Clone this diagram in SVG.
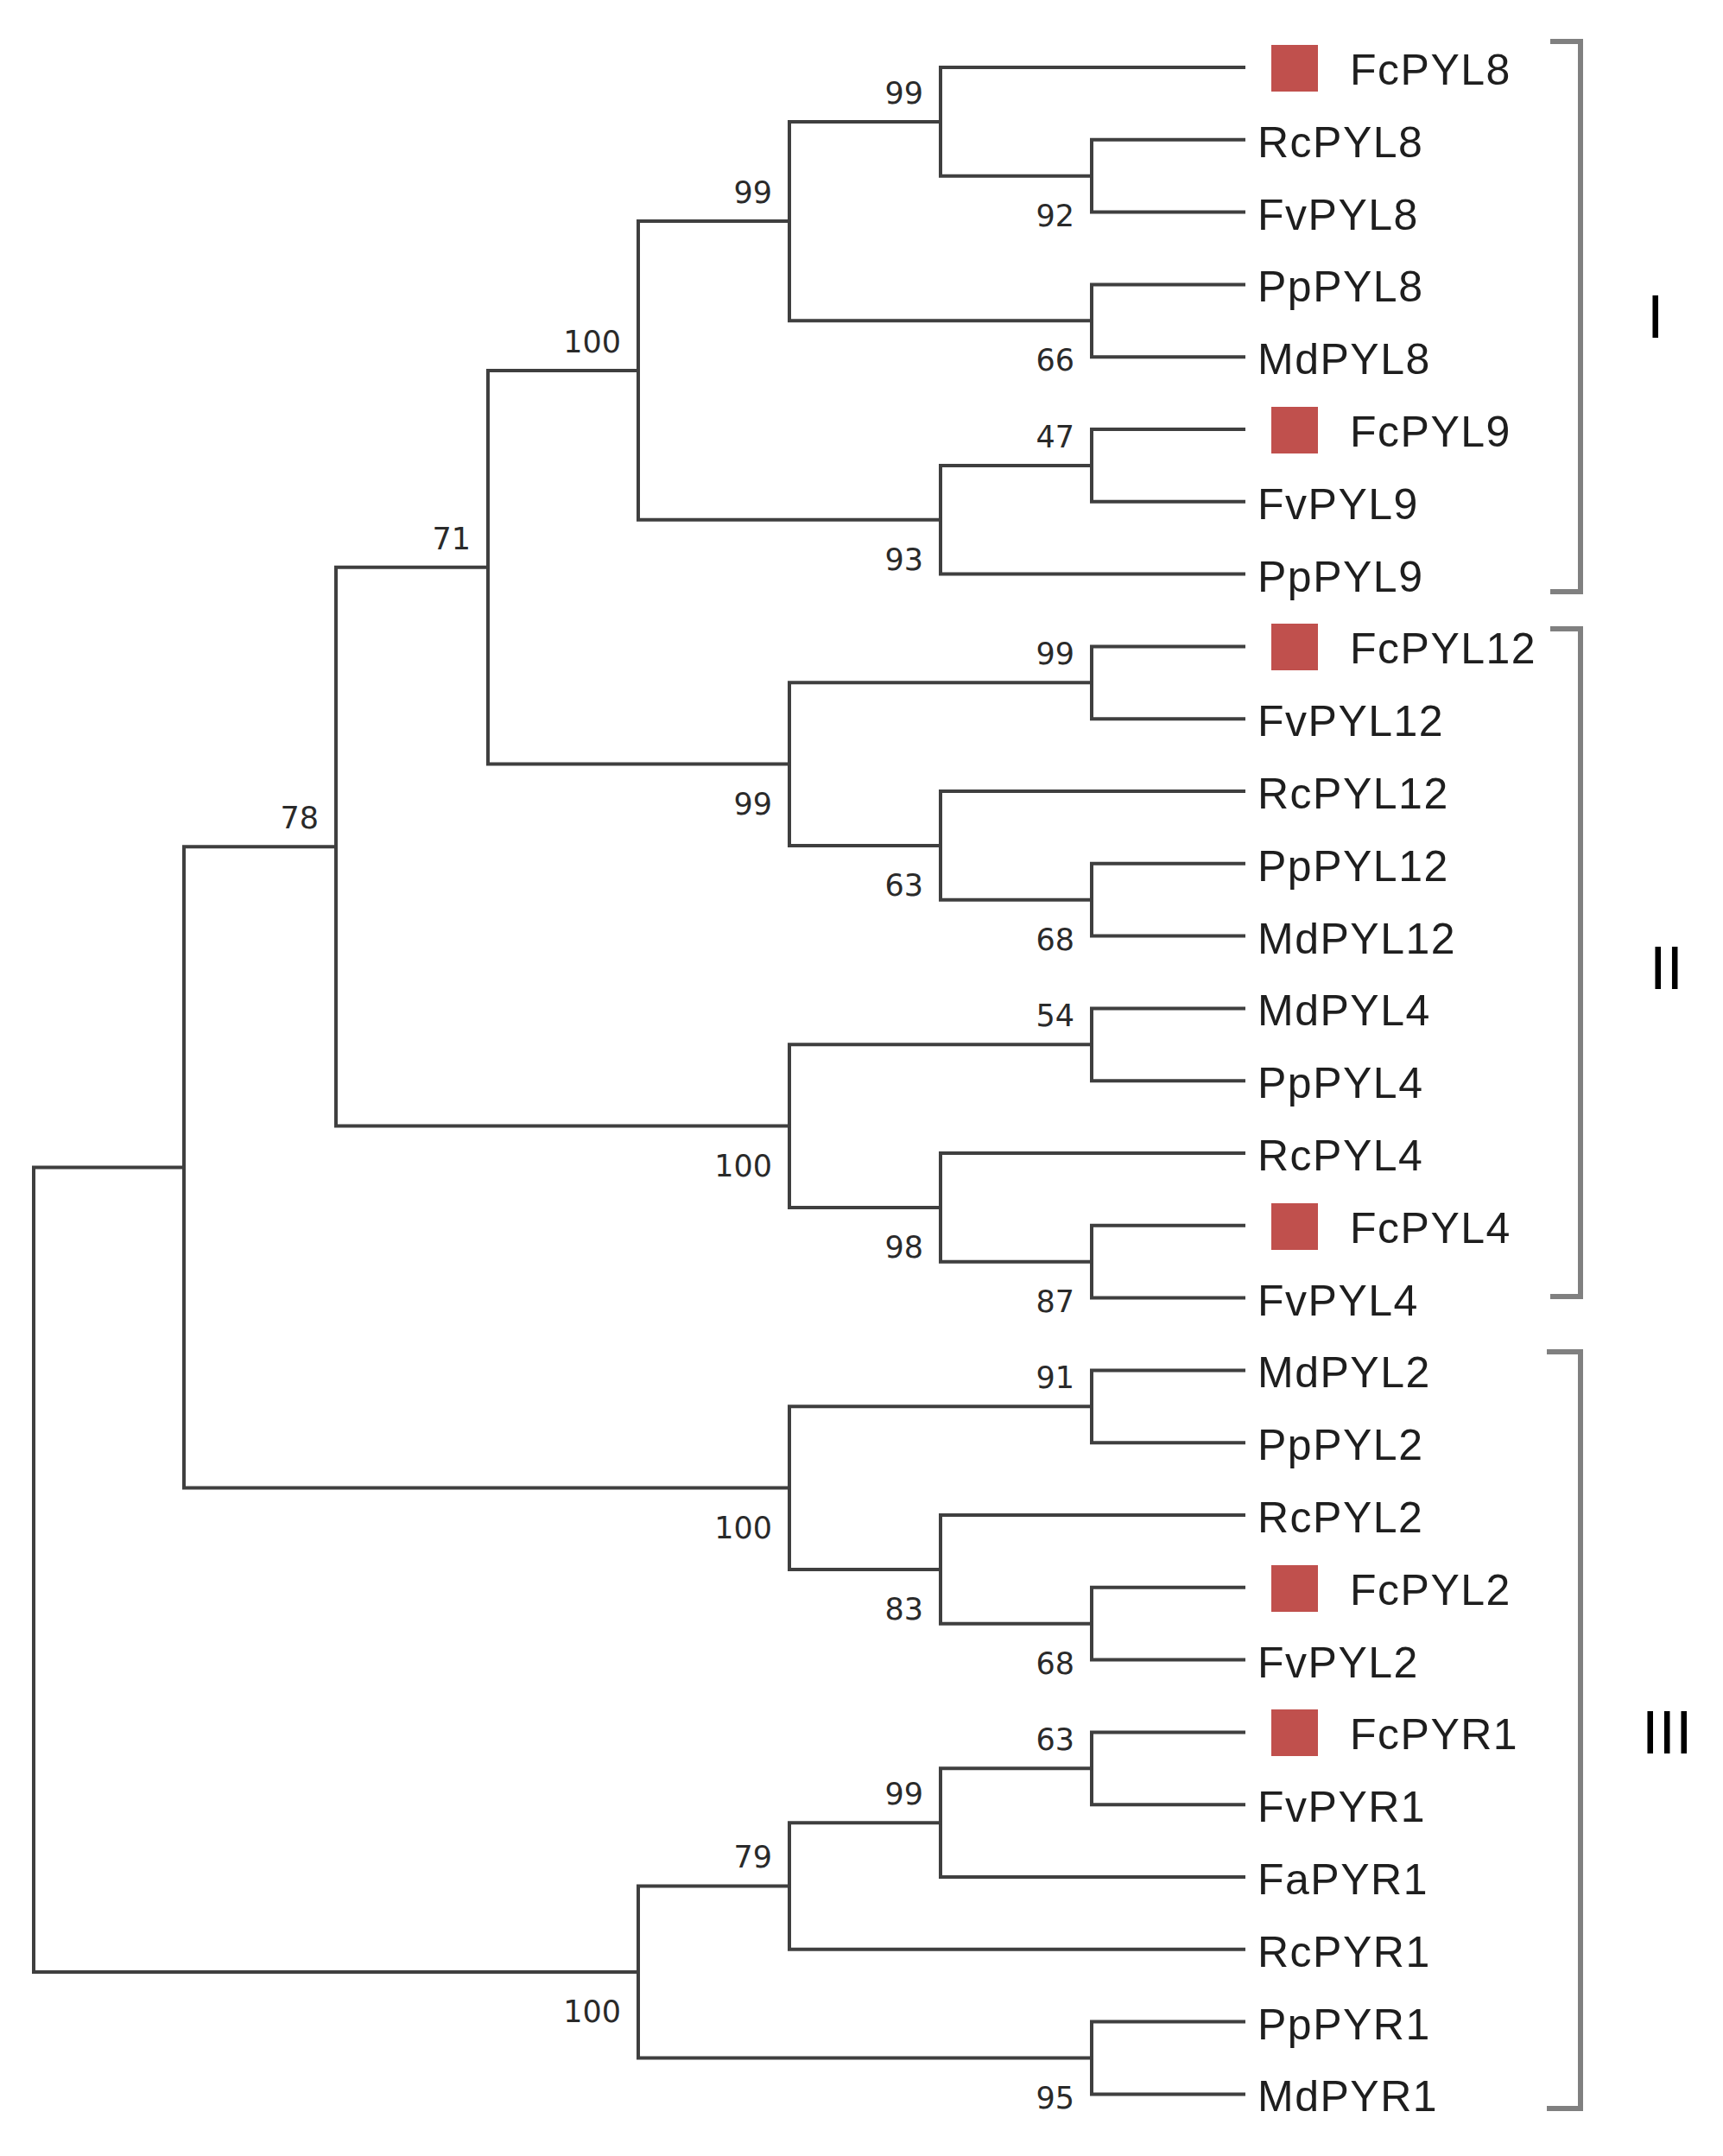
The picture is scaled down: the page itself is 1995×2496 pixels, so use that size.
<svg xmlns="http://www.w3.org/2000/svg" width="1995" height="2496" viewBox="0 0 1995 2496">
<style>
.br{fill:none;stroke:#3f3f3f;stroke-width:4;stroke-linecap:square}
.bk{fill:none;stroke:#808080;stroke-width:6}
.tip{font-family:"Liberation Sans",Arial,sans-serif;font-size:50px;fill:#1e1e1e;letter-spacing:1.5px}
.bs{font-family:"DejaVu Sans",Verdana,sans-serif;font-size:35px;fill:#2a2a2a;text-anchor:end}
.cl{font-family:"Liberation Sans",Arial,sans-serif;font-size:70px;fill:#000}
.sq{fill:#c0504d}
</style>
<rect width="1995" height="2496" fill="#fff"/>
<g id="connectors">
<path class="br" d="M1440 161.8H1264V245.6H1440"/>
<path class="br" d="M1440 78H1089V203.7H1264"/>
<path class="br" d="M1440 329.4H1264V413.2H1440"/>
<path class="br" d="M1089 140.9H914V371.3H1264"/>
<path class="br" d="M1440 497H1264V580.8H1440"/>
<path class="br" d="M1264 538.9H1089V664.6H1440"/>
<path class="br" d="M914 256.1H739V601.8H1089"/>
<path class="br" d="M1440 748.4H1264V832.2H1440"/>
<path class="br" d="M1440 999.8H1264V1083.6H1440"/>
<path class="br" d="M1440 916H1089V1041.7H1264"/>
<path class="br" d="M1264 790.3H914V978.9H1089"/>
<path class="br" d="M739 428.9H565V884.6H914"/>
<path class="br" d="M1440 1167.4H1264V1251.2H1440"/>
<path class="br" d="M1440 1418.8H1264V1502.6H1440"/>
<path class="br" d="M1440 1335H1089V1460.7H1264"/>
<path class="br" d="M1264 1209.3H914V1397.9H1089"/>
<path class="br" d="M565 656.7H389V1303.6H914"/>
<path class="br" d="M1440 1586.4H1264V1670.2H1440"/>
<path class="br" d="M1440 1837.8H1264V1921.6H1440"/>
<path class="br" d="M1440 1754H1089V1879.7H1264"/>
<path class="br" d="M1264 1628.3H914V1816.9H1089"/>
<path class="br" d="M389 980.2H213V1722.6H914"/>
<path class="br" d="M1440 2005.4H1264V2089.2H1440"/>
<path class="br" d="M1264 2047.3H1089V2173H1440"/>
<path class="br" d="M1089 2110.2H914V2256.8H1440"/>
<path class="br" d="M1440 2340.6H1264V2424.4H1440"/>
<path class="br" d="M914 2183.5H739V2382.5H1264"/>
<path class="br" d="M213 1351.4H39V2283H739"/>
</g>
<g id="bootstrap">
<text class="bs" x="1069" y="120">99</text>
<text class="bs" x="1244" y="262">92</text>
<text class="bs" x="894" y="235">99</text>
<text class="bs" x="1244" y="429">66</text>
<text class="bs" x="719" y="408">100</text>
<text class="bs" x="1244" y="518">47</text>
<text class="bs" x="1069" y="660">93</text>
<text class="bs" x="545" y="636">71</text>
<text class="bs" x="1244" y="769">99</text>
<text class="bs" x="894" y="943">99</text>
<text class="bs" x="1069" y="1037">63</text>
<text class="bs" x="1244" y="1100">68</text>
<text class="bs" x="369" y="959">78</text>
<text class="bs" x="1244" y="1188">54</text>
<text class="bs" x="894" y="1362">100</text>
<text class="bs" x="1069" y="1456">98</text>
<text class="bs" x="1244" y="1519">87</text>
<text class="bs" x="1244" y="1607">91</text>
<text class="bs" x="894" y="1781">100</text>
<text class="bs" x="1069" y="1875">83</text>
<text class="bs" x="1244" y="1938">68</text>
<text class="bs" x="1244" y="2026">63</text>
<text class="bs" x="1069" y="2089">99</text>
<text class="bs" x="894" y="2162">79</text>
<text class="bs" x="719" y="2341">100</text>
<text class="bs" x="1244" y="2441">95</text>
</g>
<g id="tip-FcPYL8"><rect class="sq" x="1472" y="52" width="54" height="54"/><text class="tip" x="1563" y="98">FcPYL8</text></g>
<g id="tip-RcPYL8"><text class="tip" x="1456" y="182">RcPYL8</text></g>
<g id="tip-FvPYL8"><text class="tip" x="1456" y="266">FvPYL8</text></g>
<g id="tip-PpPYL8"><text class="tip" x="1456" y="349">PpPYL8</text></g>
<g id="tip-MdPYL8"><text class="tip" x="1456" y="433">MdPYL8</text></g>
<g id="tip-FcPYL9"><rect class="sq" x="1472" y="471" width="54" height="54"/><text class="tip" x="1563" y="517">FcPYL9</text></g>
<g id="tip-FvPYL9"><text class="tip" x="1456" y="601">FvPYL9</text></g>
<g id="tip-PpPYL9"><text class="tip" x="1456" y="685">PpPYL9</text></g>
<g id="tip-FcPYL12"><rect class="sq" x="1472" y="722" width="54" height="54"/><text class="tip" x="1563" y="768">FcPYL12</text></g>
<g id="tip-FvPYL12"><text class="tip" x="1456" y="852">FvPYL12</text></g>
<g id="tip-RcPYL12"><text class="tip" x="1456" y="936">RcPYL12</text></g>
<g id="tip-PpPYL12"><text class="tip" x="1456" y="1020">PpPYL12</text></g>
<g id="tip-MdPYL12"><text class="tip" x="1456" y="1104">MdPYL12</text></g>
<g id="tip-MdPYL4"><text class="tip" x="1456" y="1187">MdPYL4</text></g>
<g id="tip-PpPYL4"><text class="tip" x="1456" y="1271">PpPYL4</text></g>
<g id="tip-RcPYL4"><text class="tip" x="1456" y="1355">RcPYL4</text></g>
<g id="tip-FcPYL4"><rect class="sq" x="1472" y="1393" width="54" height="54"/><text class="tip" x="1563" y="1439">FcPYL4</text></g>
<g id="tip-FvPYL4"><text class="tip" x="1456" y="1523">FvPYL4</text></g>
<g id="tip-MdPYL2"><text class="tip" x="1456" y="1606">MdPYL2</text></g>
<g id="tip-PpPYL2"><text class="tip" x="1456" y="1690">PpPYL2</text></g>
<g id="tip-RcPYL2"><text class="tip" x="1456" y="1774">RcPYL2</text></g>
<g id="tip-FcPYL2"><rect class="sq" x="1472" y="1812" width="54" height="54"/><text class="tip" x="1563" y="1858">FcPYL2</text></g>
<g id="tip-FvPYL2"><text class="tip" x="1456" y="1942">FvPYL2</text></g>
<g id="tip-FcPYR1"><rect class="sq" x="1472" y="1979" width="54" height="54"/><text class="tip" x="1563" y="2025">FcPYR1</text></g>
<g id="tip-FvPYR1"><text class="tip" x="1456" y="2109">FvPYR1</text></g>
<g id="tip-FaPYR1"><text class="tip" x="1456" y="2193">FaPYR1</text></g>
<g id="tip-RcPYR1"><text class="tip" x="1456" y="2277">RcPYR1</text></g>
<g id="tip-PpPYR1"><text class="tip" x="1456" y="2361">PpPYR1</text></g>
<g id="tip-MdPYR1"><text class="tip" x="1456" y="2444">MdPYR1</text></g>
<g id="clade-I"><path class="bk" d="M1795 48H1830V685H1795"/><text class="cl" x="1907" y="391">I</text></g>
<g id="clade-II"><path class="bk" d="M1795 728H1830V1501H1795"/><text class="cl" x="1910" y="1145">II</text></g>
<g id="clade-III"><path class="bk" d="M1791 1565H1830V2441H1791"/><text class="cl" x="1901" y="2030">III</text></g>
</svg>
